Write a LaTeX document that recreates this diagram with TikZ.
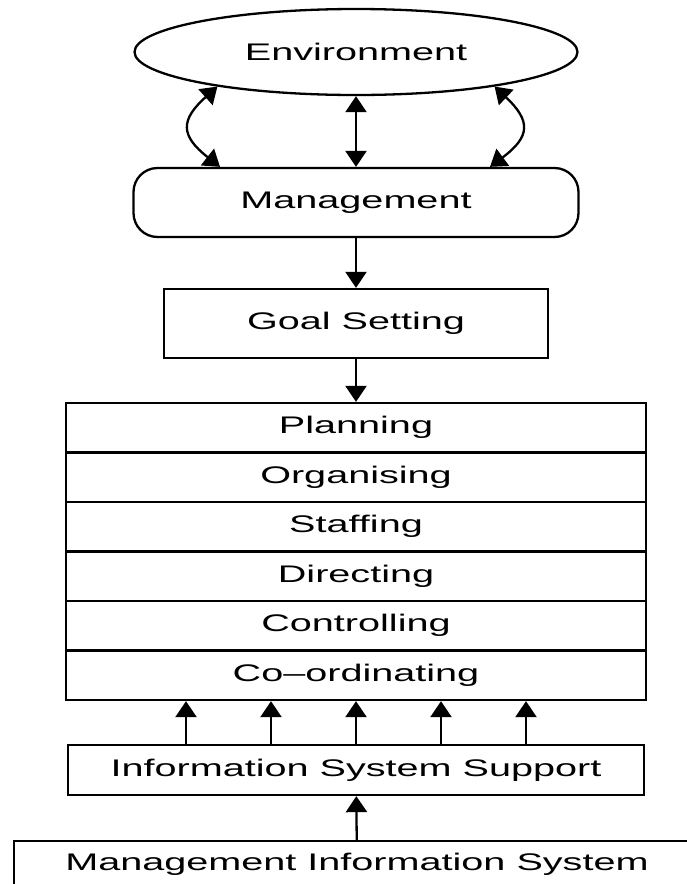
\documentclass[tikz,border=0pt]{standalone}
\usepackage{fontspec}
\setmainfont[FakeStretch=1.65]{Liberation Sans}
\usetikzlibrary{%
  arrows.meta,%
  shapes.geometric% wg. ellipse
}

\begin{document}
\begin{tikzpicture}[x=1pt,y=-1pt,line width=2.3pt,
    >={Triangle[length=16pt,width=21pt]},
    every node/.style={font=\fontsize{24}{28}\selectfont,inner sep=0},
    box/.style={draw,rectangle,minimum height=69pt}]
  \useasboundingbox (0,0) rectangle (687,884);

  \node[draw,ellipse,minimum width=443pt,minimum height=86pt] (env) at (356,52) {Environment};
  \node[box,rounded corners=24pt,minimum width=445pt] (mgmt) at (356,202.5) {Management};
  \node[box,minimum width=384pt] (goal) at (356,323.5) {Goal Setting};

  \foreach \name/\txt [count=\i] in {plan/Planning,org/Organising,staff/Staffing,dir/Directing,ctrl/Controlling,coord/Co--ordinating}
    \node[draw,minimum width=580pt,minimum height=49.5pt] (\name) at (356,378.25+\i*49.5) {\txt};

  \node[draw,minimum width=576pt,minimum height=50pt] (iss) at (356,770) {Information System Support};
  \node[draw,minimum width=686pt,minimum height=46pt] (mis) at (357,864) {Management Information System};

  \draw[<->] (env.south) -- (mgmt.north);
  \draw[<->] (env.194) to[bend right=50,looseness=1.6] ([xshift=-136pt]mgmt.north);
  \draw[<->] (env.346) to[bend left=50,looseness=1.6] ([xshift=134pt]mgmt.north);
  \draw[->] (mgmt) -- (goal);
  \draw[->] (goal) -- (plan);
  \foreach \dx in {-170,-85,0,85,170}
    \draw[->] ([xshift=\dx pt]iss.north) -- ([xshift=\dx pt]coord.south);
  \draw[->] (mis) -- (iss);
\end{tikzpicture}
\end{document}
